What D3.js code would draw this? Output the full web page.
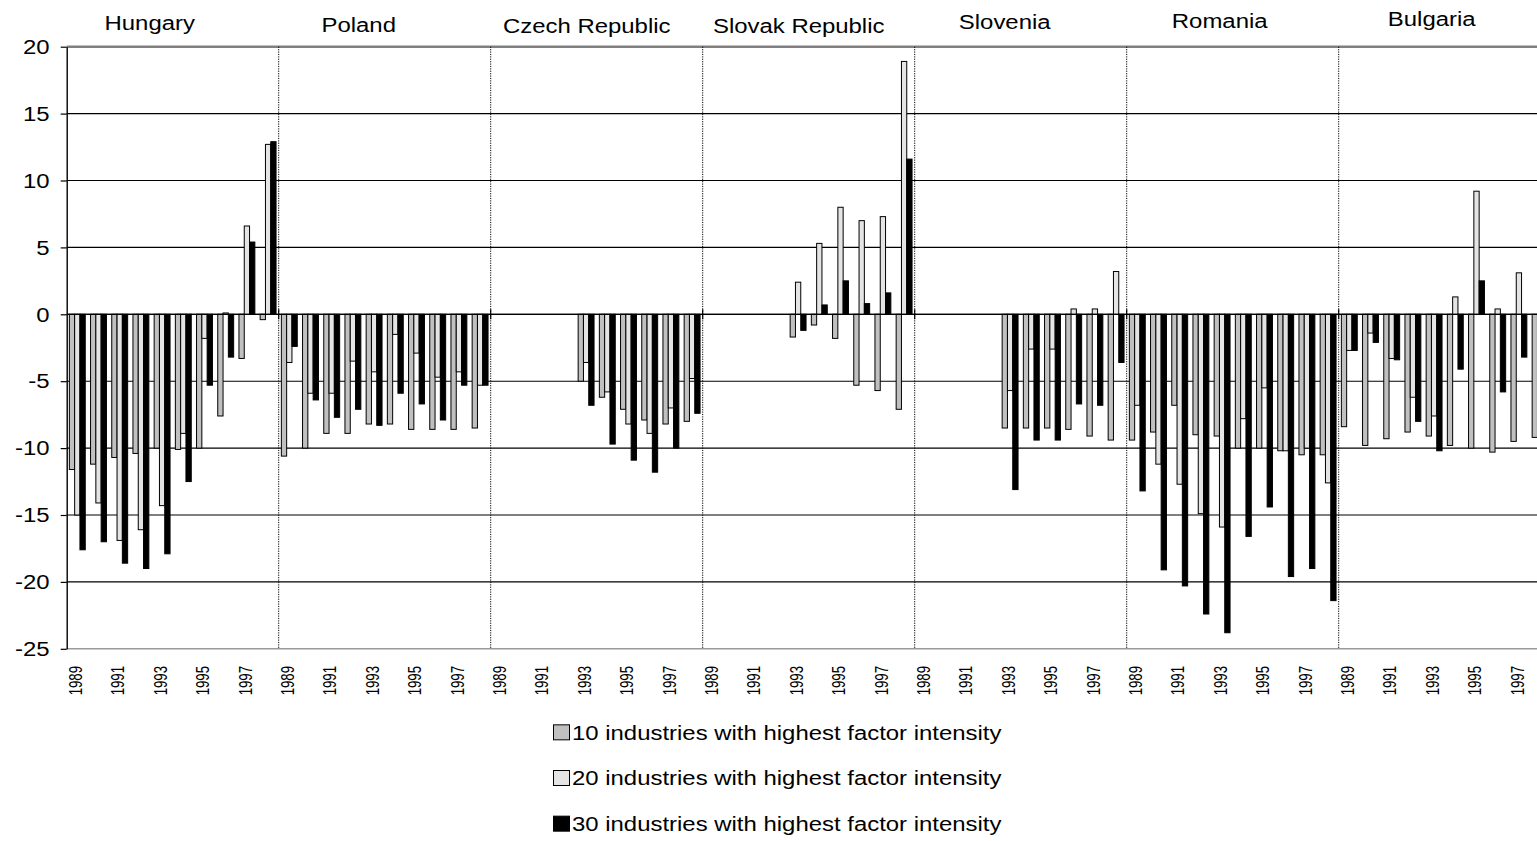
<!DOCTYPE html>
<html><head><meta charset="utf-8">
<script src="https://cdn.jsdelivr.net/npm/d3@7"></script>
<style>
html,body{margin:0;padding:0;background:#fff;overflow:hidden;}
svg{display:block;}
text{font-family:"Liberation Sans",Arial,Helvetica,sans-serif;fill:#000;}
</style></head><body>
<svg id="chart" width="1537" height="841"></svg>
<script>
// ---------------- data ----------------
const countries = ["Hungary","Poland","Czech Republic","Slovak Republic","Slovenia","Romania","Bulgaria"];
const years = [1989,1990,1991,1992,1993,1994,1995,1996,1997,1998];
const tickYears = [1989,1991,1993,1995,1997];
const yTicks = [20,15,10,5,0,-5,-10,-15,-20,-25];
const seriesNames = [
  "10 industries with highest factor intensity",
  "20 industries with highest factor intensity",
  "30 industries with highest factor intensity"
];
// values per country, 1989..1998 (null = no bar)
const top10 = [
  -11.6,-11.2,-10.7,-10.4,-10.0,-10.1,-10.0,-7.6,-3.3,-0.4,      // Hungary
  -10.6,-10.0,-8.9,-8.9,-8.2,-8.2,-8.6,-8.6,-8.6,-8.5,           // Poland
  null,null,null,null,-5.0,-6.2,-7.1,-7.9,-8.2,-8.0,             // Czech Republic
  null,null,null,null,-1.7,-0.8,-1.8,-5.3,-5.7,-7.1,             // Slovak Republic
  null,null,null,null,-8.5,-8.5,-8.5,-8.6,-9.1,-9.4,             // Slovenia
  -9.4,-8.8,-6.8,-9.0,-9.1,-10.0,-10.0,-10.2,-10.5,-10.5,        // Romania
  -8.4,-9.8,-9.3,-8.8,-9.1,-9.8,-10.0,-10.3,-9.5,-9.2            // Bulgaria
];
const top20 = [
  -15.0,-14.1,-16.9,-16.1,-14.3,-8.9,-1.8,0.1,6.6,12.7,
  -3.6,-5.9,-5.9,-3.5,-4.3,-1.5,-2.9,-4.7,-4.3,-5.3,
  null,null,null,null,-3.6,-5.8,-8.2,-8.9,-7.0,-4.8,
  null,null,null,null,2.4,5.3,8.0,7.0,7.3,18.9,
  null,null,null,null,-5.7,-2.6,-2.6,0.4,0.4,3.2,
  -6.8,-11.2,-12.7,-14.9,-15.9,-7.8,-5.5,-10.2,-10.0,-12.6,
  -2.7,-1.4,-3.3,-6.2,-7.6,1.3,9.2,0.4,3.1,null
];
const top30 = [
  -17.6,-17.0,-18.6,-19.0,-17.9,-12.5,-5.3,-3.2,5.4,12.9,
  -2.4,-6.4,-7.7,-7.1,-8.3,-5.9,-6.7,-7.9,-5.3,-5.3,
  null,null,null,null,-6.8,-9.7,-10.9,-11.8,-10.0,-7.4,
  null,null,null,null,-1.2,0.7,2.5,0.8,1.6,11.6,
  null,null,null,null,-13.1,-9.4,-9.4,-6.7,-6.8,-3.6,
  -13.2,-19.1,-20.3,-22.4,-23.8,-16.6,-14.4,-19.6,-19.0,-21.4,
  -2.7,-2.1,-3.4,-8.0,-10.2,-4.1,2.5,-5.8,-3.2,null
];
const seriesValues = [top10, top20, top30];

// ---------------- layout / style ----------------
const fills = ["#c0c0c0", "#e4e4e4", "#000000"];
const X0 = 66.7, X1 = 1550.7, YT = 46.7, YB = 648.8;
const SX = 1.14; // horizontal stretch of all text
// country title placement (offset from band centre, y centre)
const titleLayout = [[-23,23],[-26,25],[-10,26],[-10,26],[-16,22],[-13,21],[-13,19]];

const svg = d3.select("#chart");

const cats = [];
countries.forEach(c => years.forEach(yr => cats.push({country:c, year:yr, key:c+"|"+yr})));

const x = d3.scaleBand().domain(cats.map(d=>d.key)).range([X0, X1]).padding(0);
const xc = d3.scaleBand().domain(countries).range([X0, X1]).padding(0);
const xs = d3.scaleBand().domain([0,1,2]).range([0, x.bandwidth()]).paddingInner(0).paddingOuter(0.5);
const y = d3.scaleLinear().domain([-25, 20]).range([YB, YT]);

// gridlines
svg.append("g").selectAll("line")
  .data(yTicks.filter(v => v < 20 && v > -25))
  .join("line")
  .attr("x1", X0).attr("x2", X1)
  .attr("y1", d => y(d)).attr("y2", d => y(d))
  .attr("stroke", "#000").attr("stroke-width", 1.1);

// plot-area border top & bottom
svg.append("line").attr("x1", X0).attr("x2", X1).attr("y1", y(20)).attr("y2", y(20))
  .attr("stroke", "#808080").attr("stroke-width", 2.4);
svg.append("line").attr("x1", X0).attr("x2", X1).attr("y1", y(-25)).attr("y2", y(-25))
  .attr("stroke", "#9a9a9a").attr("stroke-width", 1.5);

// country separators (dotted)
svg.append("g").selectAll("line")
  .data(countries.slice(1))
  .join("line")
  .attr("x1", d => xc(d)).attr("x2", d => xc(d))
  .attr("y1", y(20)).attr("y2", y(-25))
  .attr("stroke", "#000").attr("stroke-width", 1)
  .attr("stroke-dasharray", "1.2,1.2");

// bars
const barData = [];
seriesValues.forEach((arr, s) => arr.forEach((v, i) => {
  if (v !== null) barData.push({s, v, key: cats[i].key});
}));
svg.append("g").selectAll("rect")
  .data(barData)
  .join("rect")
  .attr("x", d => x(d.key) + xs(d.s))
  .attr("width", xs.bandwidth())
  .attr("y", d => y(Math.max(0, d.v)))
  .attr("height", d => Math.abs(y(d.v) - y(0)))
  .attr("fill", d => fills[d.s])
  .attr("stroke", "#000").attr("stroke-width", 1);

// zero (category) axis line + country ticks
svg.append("line").attr("x1", X0).attr("x2", X1).attr("y1", y(0)).attr("y2", y(0))
  .attr("stroke", "#000").attr("stroke-width", 1.2);
svg.append("g").selectAll("line")
  .data(countries.slice(1))
  .join("line")
  .attr("x1", d => xc(d)).attr("x2", d => xc(d))
  .attr("y1", y(0) - 5).attr("y2", y(0) + 5)
  .attr("stroke", "#000").attr("stroke-width", 1.2);

// y axis
const yAxis = svg.append("g")
  .attr("transform", `translate(${X0},0)`)
  .call(d3.axisLeft(y).tickValues(yTicks).tickSize(6).tickSizeOuter(0).tickPadding(9).tickFormat(d => String(d)));
yAxis.select(".domain").attr("stroke", "#000").attr("stroke-width", 1.4);
yAxis.selectAll(".tick line").attr("stroke", "#000").attr("stroke-width", 1.2);
yAxis.selectAll(".tick text")
  .attr("font-size", 21)
  .attr("font-family", "Liberation Sans, Arial, sans-serif")
  .attr("fill", "#000")
  .attr("transform", `scale(${SX},1)`);

// year tick labels (rotated, narrow)
svg.append("g").selectAll("text")
  .data(cats.filter(d => tickYears.includes(d.year)))
  .join("text")
  .attr("transform", d => `translate(${x(d.key) + x.bandwidth()/2 - 2},${666}) scale(${SX},1) rotate(-90) scale(0.8,1)`)
  .attr("text-anchor", "end")
  .attr("dy", "0.36em")
  .attr("font-size", 16.5)
  .text(d => d.year);

// country titles
svg.append("g").selectAll("text")
  .data(countries)
  .join("text")
  .attr("transform", (d, i) => `translate(${xc(d) + xc.bandwidth()/2 + titleLayout[i][0]},${titleLayout[i][1]}) scale(${SX},1)`)
  .attr("text-anchor", "middle")
  .attr("dy", "0.35em")
  .attr("font-size", 21)
  .text(d => d);

// legend
const legendY = d3.scaleBand().domain([0,1,2]).range([709.5, 846.5]);
const lg = svg.append("g").selectAll("g")
  .data(seriesNames)
  .join("g")
  .attr("transform", (d, i) => `translate(553,${legendY(i) + legendY.bandwidth()/2})`);
lg.append("rect")
  .attr("x", 0.5).attr("y", -7.5).attr("width", 16).attr("height", 15)
  .attr("fill", (d, i) => fills[i]).attr("stroke", "#000").attr("stroke-width", 1);
lg.append("text")
  .attr("transform", `translate(19,0) scale(${SX},1)`)
  .attr("dy", "0.35em")
  .attr("font-size", 21)
  .text(d => d);
</script>
</body></html>
